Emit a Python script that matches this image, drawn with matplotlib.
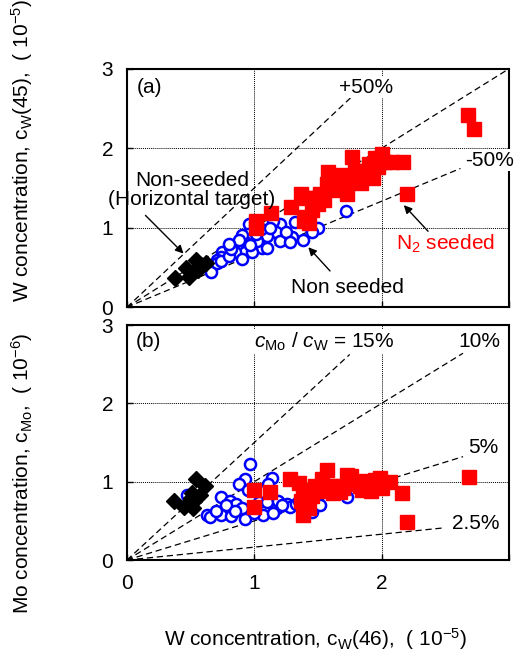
import matplotlib.pyplot as plt
import numpy as np

plt.rcParams['font.family'] = ['Liberation Sans', 'DejaVu Sans']
plt.rcParams['font.size'] = 15
plt.rcParams['mathtext.fontset'] = 'custom'
plt.rcParams['mathtext.rm'] = 'Liberation Sans'
plt.rcParams['mathtext.it'] = 'Liberation Sans:italic'
plt.rcParams['mathtext.default'] = 'regular'

# ---- panel (a): cW(46) vs cW(45), units 1e-5
a_red_x = [1.01, 1.13, 1.29, 1.37, 1.41, 1.41, 1.43, 1.47, 1.52, 1.58, 1.57, 1.64, 1.67,
           1.73, 1.73, 1.77, 1.79, 1.84, 1.88, 1.90, 1.93, 1.97, 2.00, 2.03, 2.08, 2.17,
           2.20, 2.68, 2.73, 1.39, 1.01, 1.45, 1.50, 1.55, 1.62, 1.70, 1.84, 1.95]
a_red_y = [1.09, 1.18, 1.26, 1.43, 1.37, 1.13, 1.06, 1.38, 1.42, 1.70, 1.55, 1.64, 1.52,
           1.60, 1.43, 1.89, 1.72, 1.56, 1.72, 1.80, 1.62, 1.76, 1.93, 1.83, 1.83, 1.83,
           1.43, 2.42, 2.24, 1.09, 1.00, 1.22, 1.30, 1.35, 1.48, 1.67, 1.70, 1.88]
a_blue_x = [1.72, 1.50, 1.38, 1.30, 1.20, 1.15, 1.17, 1.20, 1.10, 1.06, 1.02, 0.96, 0.95,
            0.92, 0.90, 0.86, 0.93, 0.85, 0.75, 0.74, 0.71, 0.66, 0.98, 1.10, 1.01, 1.32,
            1.42, 0.81, 0.90, 0.71, 0.74, 0.80, 0.82, 1.25, 1.05, 0.88, 0.80, 1.12, 1.45,
            0.97, 1.28]
a_blue_y = [1.21, 1.00, 0.84, 0.88, 1.05, 1.09, 0.94, 0.83, 0.90, 0.74, 0.83, 1.05, 0.92,
            0.83, 0.91, 0.76, 0.70, 0.70, 0.69, 0.63, 0.59, 0.44, 0.70, 0.74, 0.92, 1.07,
            1.03, 0.76, 0.61, 0.55, 0.58, 0.65, 0.73, 0.95, 0.98, 0.85, 0.80, 1.00, 0.95,
            0.78, 0.82]
a_blk_x = [0.38, 0.46, 0.49, 0.54, 0.58, 0.62, 0.52, 0.56]
a_blk_y = [0.37, 0.49, 0.38, 0.59, 0.53, 0.55, 0.44, 0.47]

# reference lines: slope, end of dashed segment
a_slopes = [1.5, 1.0, 1 / 1.5]
a_ends = [1.78, 3.0, 2.62]

# ---- panel (b): cW(46) vs cMo, units 1e-5 / 1e-6
b_red_x = [1.00, 1.12, 1.00, 1.28, 1.35, 1.38, 1.37, 1.38, 1.43, 1.48, 1.53, 1.57, 1.60,
           1.62, 1.67, 1.73, 1.76, 1.80, 1.83, 1.88, 1.92, 1.99, 2.00, 2.07, 2.16, 2.20,
           2.69, 1.92, 1.45, 1.50, 1.65, 1.70, 1.85, 1.42, 1.95]
b_red_y = [0.90, 0.87, 0.68, 1.03, 0.98, 0.89, 0.75, 0.58, 0.66, 0.94, 1.03, 1.15, 0.94,
           0.85, 0.87, 1.09, 1.07, 0.97, 0.95, 1.01, 0.88, 1.05, 0.92, 0.99, 0.86, 0.49,
           1.06, 0.97, 0.82, 0.88, 0.95, 0.92, 0.90, 0.72, 1.02]
b_blue_x = [0.97, 0.93, 0.88, 1.14, 1.11, 0.95, 0.74, 0.81, 0.86, 0.78, 0.63, 0.65, 0.74,
            0.82, 0.93, 0.90, 1.04, 1.07, 1.10, 1.18, 1.19, 1.26, 0.47, 1.28, 1.45, 1.73,
            1.45, 1.33, 0.85, 1.00, 1.15, 1.22, 0.70, 1.35, 1.52, 1.38]
b_blue_y = [1.23, 1.03, 0.97, 1.05, 0.97, 0.90, 0.81, 0.75, 0.72, 0.70, 0.58, 0.55, 0.58,
            0.56, 0.53, 0.66, 0.74, 0.58, 0.74, 0.66, 0.76, 0.72, 0.83, 0.68, 0.64, 0.81,
            0.61, 0.72, 0.62, 0.60, 0.60, 0.70, 0.62, 0.75, 0.70, 0.62]
b_blk_x = [0.54, 0.61, 0.37, 0.45, 0.52, 0.50, 0.53, 0.57, 0.51]
b_blk_y = [1.04, 0.95, 0.75, 0.68, 0.67, 0.79, 0.75, 0.83, 0.85]

b_slopes = [1.5, 1.0, 0.5, 0.165]
b_ends = [1.75, 2.64, 2.64, 2.5]
b_labels = ['$\\mathit{c}_{Mo}$ / $\\mathit{c}_{W}$ = 15%', '10%', '5%', '2.5%']

ticks = [0, 1, 2, 3]

fig = plt.figure(figsize=(5.14, 6.62), dpi=100)
ax1 = fig.add_axes([0.247, 0.536, 0.743, 0.360])
ax2 = fig.add_axes([0.247, 0.154, 0.743, 0.355])

wbox = dict(facecolor='white', edgecolor='none', pad=1)


def style(ax):
    ax.set_xlim(0, 3)
    ax.set_ylim(0, 3)
    ax.set_xticks(ticks)
    ax.set_yticks(ticks)
    for v in [1, 2]:
        ax.axvline(v, color='k', ls=(0, (1, 1)), lw=0.7, zorder=0)
        ax.axhline(v, color='k', ls=(0, (1, 1)), lw=0.7, zorder=0)
    for s in ax.spines.values():
        s.set_linewidth(1.5)
    ax.tick_params(direction='in', length=4, width=1, labelsize=15, pad=10)


def points(ax, bx, by, rx, ry, kx, ky):
    ax.plot(bx, by, 'o', ms=8, mfc='white', mec='blue', mew=1.8, ls='none', zorder=3)
    ax.plot(rx, ry, 's', ms=9.5, mfc='red', mec='red', ls='none', zorder=4)
    ax.plot(kx, ky, 'D', ms=8, mfc='black', mec='black', ls='none', zorder=5)


# panel (a)
style(ax1)
for k, e in zip(a_slopes, a_ends):
    xx = np.array([0, e])
    ax1.plot(xx, k * xx, '--', color='k', lw=0.9, dashes=(5, 3), zorder=2)
points(ax1, a_blue_x, a_blue_y, a_red_x, a_red_y, a_blk_x, a_blk_y)
ax1.set_xticklabels([])
ax1.text(0.08, 2.77, '(a)', ha='left', va='center')
ax1.text(1.88, 2.77, '+50%', ha='center', va='center', bbox=wbox, zorder=6)
ax1.text(2.85, 1.85, '-50%', ha='center', va='center', bbox=wbox, zorder=6, clip_on=False)
ax1.text(0.51, 1.47, 'Non-seeded\n(Horizontal target)', ha='center', va='center',
         linespacing=1.0, clip_on=False, zorder=6)
ax1.annotate('', xy=(0.46, 0.65), xytext=(0.13, 1.18),
             arrowprops=dict(arrowstyle='-|>', color='k', lw=1, mutation_scale=12), zorder=6)
ax1.text(2.50, 0.80, 'N$_2$ seeded', color='red', ha='center', va='center')
ax1.annotate('', xy=(2.16, 1.31), xytext=(2.38, 0.93),
             arrowprops=dict(arrowstyle='-|>', color='k', lw=1, mutation_scale=12), zorder=6)
ax1.text(1.73, 0.25, 'Non seeded', ha='center', va='center')
ax1.annotate('', xy=(1.41, 0.78), xytext=(1.61, 0.43),
             arrowprops=dict(arrowstyle='-|>', color='k', lw=1, mutation_scale=12), zorder=6)

# panel (b)
style(ax2)
for k, e in zip(b_slopes, b_ends):
    xx = np.array([0, e])
    ax2.plot(xx, k * xx, '--', color='k', lw=0.9, dashes=(5, 3), zorder=2)
points(ax2, b_blue_x, b_blue_y, b_red_x, b_red_y, b_blk_x, b_blk_y)
ax2.set_xticklabels(['0', '1', '2', ''])
ax2.text(0.07, 2.79, '(b)', ha='left', va='center')
lab_pos = [(1.55, 2.79), (2.77, 2.79), (2.80, 1.44), (2.74, 0.47)]
for t, (px, py) in zip(b_labels, lab_pos):
    ax2.text(px, py, t, ha='center', va='center', bbox=wbox, zorder=6)

fig.text(0.043, 0.773, 'W concentration, c$_{W}$(45),  ( 10$^{-5}$)', rotation=90,
         ha='center', va='center')
fig.text(0.043, 0.285, 'Mo concentration, c$_{Mo}$,  ( 10$^{-6}$)', rotation=90,
         ha='center', va='center')
fig.text(0.613, 0.034, 'W concentration, c$_{W}$(46),  ( 10$^{-5}$)', ha='center', va='center')

plt.savefig('out.png', dpi=100)
